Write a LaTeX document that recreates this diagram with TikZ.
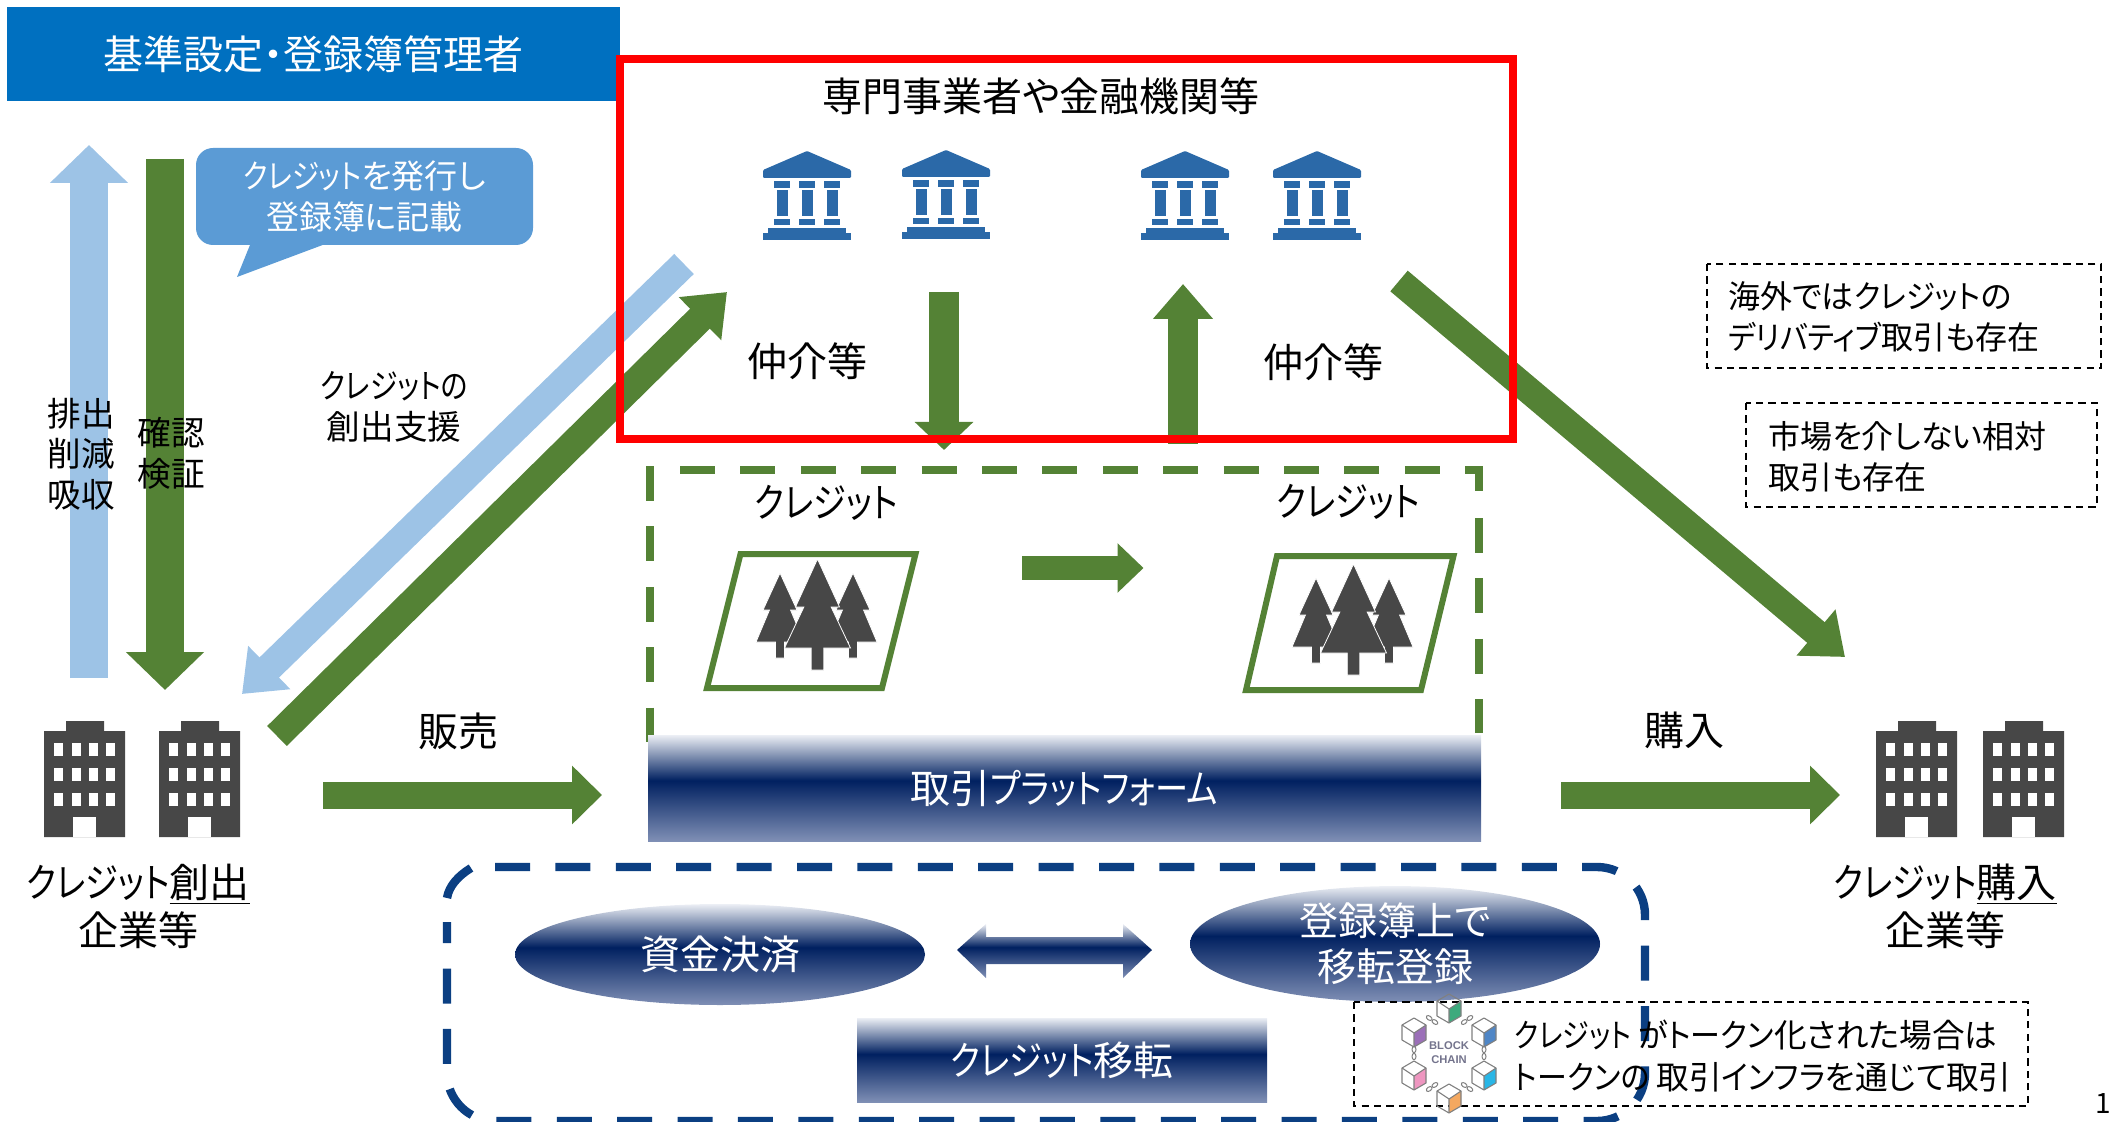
\documentclass[tikz,border=0pt]{standalone}
\usepackage{fontspec}
\setmainfont{Noto Sans CJK JP}[RawFeature={+palt}]
\newfontfamily\kn{Noto Sans CJK JP}[RawFeature={+palt},FakeStretch=0.83]
\newfontfamily\knb{Noto Sans CJK JP}[RawFeature={+palt},FakeStretch=0.92]
\newfontfamily\latinbold{Liberation Sans}
\usetikzlibrary{arrows.meta,shapes.geometric}
\definecolor{hdrblue}{HTML}{0070C0}
\definecolor{callblue}{HTML}{5B9BD5}
\definecolor{lightblue}{HTML}{9DC3E6}
\definecolor{leaf}{HTML}{548235}
\definecolor{navy}{HTML}{002060}
\definecolor{navyline}{HTML}{0B3F82}
\definecolor{navytop}{HTML}{ECEFF5}
\definecolor{navybot}{HTML}{7F8FB5}
\definecolor{bankblue}{HTML}{2B69A8}
\definecolor{icongrey}{HTML}{474747}
\definecolor{cubegreen}{HTML}{3DAA7D}
\definecolor{cubeblue}{HTML}{4F86C6}
\definecolor{cubecyan}{HTML}{29B6E6}
\definecolor{cubeorange}{HTML}{F4A860}
\definecolor{cubepink}{HTML}{EE96C0}
\definecolor{cubepurple}{HTML}{9B6FB8}
\pgfdeclareverticalshading{navygrad}{100bp}{color(0bp)=(navybot);color(25bp)=(navybot);color(53.5bp)=(navy);color(75bp)=(navytop);color(100bp)=(navytop)}
\newcommand\fsz[2]{\fontsize{#1}{#2}\selectfont}
\tikzset{
  x=0.5pt,y=-0.5pt,
  blockarrow/.style n args={3}{line width=#1,-{Triangle[length=#3,width=#2]}},
  lbl/.style={inner sep=0pt,align=center,text=black,font=\fsz{20}{20.3}},
  lblsmall/.style={inner sep=0pt,align=center,text=black,font=\fsz{16.8}{20.3}},
  note/.style={inner sep=0pt,align=left,text=black,font=\fsz{16}{20.3}},
  whitetxt/.style={text=white,align=center,font=\fsz{20}{20.3},inner sep=0pt},
  navybox/.style={shading=navygrad,rectangle,whitetxt},
  navyell/.style={shading=navygrad,ellipse,whitetxt},
  notebox/.style={draw=black,line width=1pt,dash pattern=on 3.6pt off 2.6pt},
  forestframe/.style={draw=leaf,line width=3pt,fill=white},
  greendash/.style={draw=leaf,line width=4pt,dash pattern=on 17.5pt off 12.7pt}
}
% bank icon: centre x, top y
\newcommand\bankicon[2]{\begin{scope}[shift={(#1,#2)},fill=bankblue]
  \fill[rounded corners=0.6pt] (0,0) -- (44,19) -- (44,27) -- (-44,27) -- (-44,19) -- cycle;
  \foreach \c in {-25,0,25}{
    \fill (\c-8,30) rectangle (\c+8,37);
    \fill (\c-5.5,39) rectangle (\c+5.5,65);
    \fill (\c-8,68) rectangle (\c+8,74);
  }
  \fill (-39,77) rectangle (39,82);
  \fill (-44,82) rectangle (44,89);
\end{scope}}
% office building: left x, top y
\newcommand\officeicon[2]{\begin{scope}[shift={(#1,#2)}]
  \fill[icongrey] (0,10) -- (22,10) -- (22,0) -- (60,0) -- (60,10) -- (81,10) -- (81,116) -- (0,116) -- cycle;
  \foreach \wx in {10,28,45,62}\foreach \wy in {22,47,72}{
    \fill[white] (\wx,\wy) rectangle (\wx+9,\wy+13);
  }
  \fill[white] (29,96) rectangle (52,116);
\end{scope}}
% one tree: x tip, y tip, half1, half2, y1, y2, y-bottom
\newcommand\treeshape[7]{%
  \fill[icongrey,draw=white,line width=0.4pt] (#1,#2) -- (#1+#3,#5) -- (#1+#3*0.62,#5) -- (#1+#4,#6) -- (#1+#4*0.19,#6) -- (#1+#4*0.19,#7) -- (#1-#4*0.19,#7) -- (#1-#4*0.19,#6) -- (#1-#4,#6) -- (#1-#3*0.62,#5) -- (#1-#3,#5) -- cycle;}
\newcommand\forest[2]{\begin{scope}[shift={(#1,#2)}]
  \treeshape{780}{573}{17}{24}{610}{642}{658}
  \treeshape{853}{573}{17}{24}{610}{642}{658}
  \treeshape{817.5}{559}{22}{33}{607}{648}{670}
\end{scope}}
% blockchain cube
\newcommand\chaincube[3]{\begin{scope}[shift={(#1,#2)}]
  \fill[#3] (0,1) -- (12,-7) -- (12,8) -- (0,15) -- cycle;
  \draw[gray,line width=0.55pt,line join=round] (0,-14) -- (12,-7) -- (12,8) -- (0,15) -- (-12,8) -- (-12,-7) -- cycle;
  \draw[gray,line width=0.55pt,line join=round] (-12,-7) -- (0,1) -- (12,-7) (0,1) -- (0,15);
\end{scope}}
\newcommand\chainlink[3]{\begin{scope}[shift={(#1,#2)},rotate=#3]
  \draw[gray,line width=0.5pt] (-3.5,0) ellipse [x radius=3.2,y radius=2];
  \draw[gray,line width=0.5pt] (3.5,0) ellipse [x radius=3.2,y radius=2];
\end{scope}}
\begin{document}
\begin{tikzpicture}
\useasboundingbox (0,0) rectangle (2112,1122);

% header
\node[fill=hdrblue,minimum width=306.5pt,minimum height=47pt,inner sep=0pt,text=white,font=\fsz{20}{20.3}] (header) at (313.5,54) {基準設定・登録簿管理者};

% left vertical arrows
\coordinate (lbTail) at (89,678);
\coordinate (lbTip) at (89,145);
\draw[lightblue,blockarrow={19pt}{38pt}{19pt}] (lbTail) -- (lbTip);
\coordinate (gdTail) at (165,159);
\coordinate (gdTip) at (165,690);
\draw[leaf,blockarrow={19pt}{38pt}{19pt}] (gdTail) -- (gdTip);

% callout
\fill[callblue] (252,240) -- (237,277) -- (336,240) -- cycle;
\node[fill=callblue,rounded corners=8.5pt,minimum width=168.5pt,minimum height=48.5pt,inner sep=0pt,text=white,align=center,font=\fsz{16.5}{20.3}] (callout) at (364.5,196.5) {{\kn クレジット}を発行し\\登録簿に記載};

\node[lblsmall] (emit) at (81,454) {排出\\削減\\吸収};
\node[lblsmall] (verify) at (171,453) {確認\\検証};
\node[lblsmall] (support) at (394,407) {{\kn クレジットの}\\創出支援};

% diagonals
\coordinate (dbTail) at (684,264);
\coordinate (dbTip) at (242,694);
\draw[lightblue,blockarrow={14pt}{29pt}{19pt}] (dbTail) -- (dbTip);
\coordinate (dgTail) at (277,736);
\coordinate (dgTip) at (727,292);
\draw[leaf,blockarrow={14pt}{29pt}{19pt}] (dgTail) -- (dgTip);
\coordinate (drTail) at (1399,281);
\coordinate (drTip) at (1845,657);
\draw[leaf,blockarrow={13.5pt}{29pt}{19pt}] (drTail) -- (drTip);
\coordinate (mdTail) at (944,292);
\coordinate (mdTip) at (944,450);
\draw[leaf,blockarrow={15pt}{28.5pt}{14pt}] (mdTail) -- (mdTip);
\coordinate (muTail) at (1183,444);
\coordinate (muTip) at (1183,284);
\draw[leaf,blockarrow={15pt}{29pt}{17.5pt}] (muTail) -- (muTip);

% red frame
\draw[red,line width=4pt] (620,59) rectangle (1513,439.5);
\node[lbl] (pros) at (1041,96) {専門事業者や金融機関等};
\bankicon{807}{151}
\bankicon{946}{150}
\bankicon{1185}{151}
\bankicon{1317}{151}
\node[lbl] (brokerL) at (807,361) {仲介等};
\node[lbl] (brokerR) at (1323,362) {仲介等};

% green dashed frame
\draw[greendash] (650,466) -- (650,742);
\draw[greendash] (680,470) -- (1479,470) -- (1479,492);
\draw[greendash] (1479,518) -- (1479,733);

\node[lbl] (credL) at (826,503) {\kn クレジット};
\node[lbl] (credR) at (1348,502) {\kn クレジット};
\draw[forestframe] (740.5,554) -- (915.5,554) -- (882,688) -- (707,688) -- cycle;
\draw[forestframe] (1277,556) -- (1453.5,556) -- (1421,690) -- (1246,690) -- cycle;
\forest{0}{0}
\forest{536}{5}
\coordinate (ctTail) at (1022,568);
\coordinate (ctTip) at (1143.5,568);
\draw[leaf,blockarrow={12pt}{24pt}{13pt}] (ctTail) -- (ctTip);

% platform
\node[navybox,minimum width=416.5pt,minimum height=53pt] (platform) at (1064.5,788) {取引{\kn プラットフォーム}};

% buildings
\officeicon{44}{721}
\officeicon{159}{721}
\officeicon{1876}{721}
\officeicon{1983}{721}
\node[lbl,font=\fsz{20}{24}] (seller) at (138,906) {{\kn クレジット}\underline{創出}\\企業等};
\node[lbl,font=\fsz{20}{24}] (buyer) at (1945,906) {{\kn クレジット}\underline{購入}\\企業等};
\node[lbl] (sell) at (458,731) {販売};
\node[lbl] (buy) at (1684,730) {購入};
\coordinate (slTail) at (323,795);
\coordinate (slTip) at (602,795);
\draw[leaf,blockarrow={13.5pt}{28.5pt}{15pt}] (slTail) -- (slTip);
\coordinate (byTail) at (1561,795);
\coordinate (byTip) at (1840,795);
\draw[leaf,blockarrow={13.5pt}{28.5pt}{15pt}] (byTail) -- (byTip);

% navy dashed frame
\draw[navyline,line width=4.2pt,dash pattern=on 17.5pt off 12.7pt,rounded corners=24pt] (495,867) -- (1645,867) -- (1645,1121) -- (447,1121) -- (447,922);
\draw[navyline,line width=4.2pt] (447,898) .. controls (449,886) and (458,876) .. (471,868);

\node[navyell,minimum width=205pt,minimum height=50.5pt] (settle) at (720,954.5) {資金決済};
\node[navyell,minimum width=205pt,minimum height=51pt,font=\fsz{19.5}{23}] (register) at (1395,944) {登録簿上で\\移転登録};
\path[shading=navygrad] (957,950) -- (986,924) -- (986,937) -- (1123,937) -- (1123,924) -- (1152,950) -- (1123,978) -- (1123,964) -- (986,964) -- (986,978) -- cycle;
\node[navybox,minimum width=205pt,minimum height=42pt] (transfer) at (1062,1060) {{\kn クレジット}移転};

% notes
\draw[notebox] (1707,264) rectangle (2101,368);
\node[note,anchor=west] (noteA) at (1728,317) {海外では{\knb クレジット}の\\{\knb デリバティブ}取引も存在};
\draw[notebox] (1746,403) rectangle (2097,507);
\node[note,anchor=west] (noteB) at (1768,457) {市場を介しない相対\\取引も存在};
\draw[notebox] (1354,1002) rectangle (2028,1106);
\node[note,anchor=west,font=\fsz{16.3}{21}] (noteC) at (1514,1056) {{\kn クレジット} {\knb がトークン}化された場合は\\{\knb トークンの} 取引{\knb インフラ}を通じて取引};

% blockchain icon
\chainlink{1432}{1020}{-35}
\chainlink{1467}{1020}{35}
\chainlink{1484}{1053}{90}
\chainlink{1467}{1087}{-35}
\chainlink{1432}{1087}{35}
\chainlink{1414}{1053}{90}
\chaincube{1449}{1008}{cubegreen}
\chaincube{1484}{1032}{cubeblue}
\chaincube{1484}{1075}{cubecyan}
\chaincube{1449}{1098}{cubeorange}
\chaincube{1414}{1075}{cubepink}
\chaincube{1414}{1032}{cubepurple}
\node[inner sep=0pt,align=center,font=\latinbold\bfseries\fontsize{5.6}{7}\selectfont,text=gray!90!blue] (chainlabel) at (1449,1053) {BLOCK\\CHAIN};

% page number
\node[anchor=east,inner sep=0pt,font=\fsz{14}{16}] (pageno) at (2111,1103.5) {1};
\end{tikzpicture}
\end{document}
